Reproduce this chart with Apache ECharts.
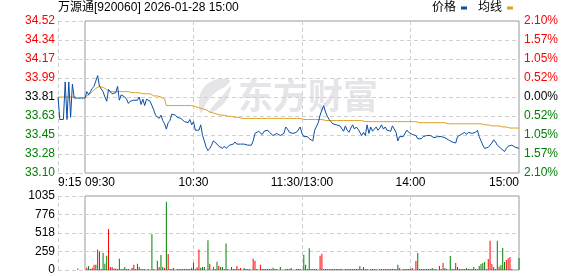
<!DOCTYPE html>
<html><head><meta charset="utf-8">
<script src="https://cdn.jsdelivr.net/npm/echarts@6/dist/echarts.min.js"></script>
<style>html,body{margin:0;padding:0;background:#fff}#c{width:578px;height:276px}</style>
</head><body><div id="c"></div>
<script>
const titleText = '万源通[920060] 2026-01-28 15:00';
const preLabels = ['9:15'];
const mainLabels = ['09:30', '10:30', '11:30/13:00', '14:00', '15:00'];
const priceTicks = ['33.10','33.28','33.45','33.63','33.81','33.99','34.17','34.34','34.52'];
const pctTicks = ['2.10%','1.57%','1.05%','0.52%','0.00%','0.52%','1.05%','1.57%','2.10%'];
const volTicks = ['0','259','518','776','1035'];

const prePrice = [33.81,33.60,33.60,33.60,33.95,33.60,33.95,33.62,33.93,33.80,33.80,33.80,33.80,33.80,33.80,33.80];
const preAvg = [33.81,33.81,33.81,33.81,33.81,33.81,33.81,33.81,33.81,33.81,33.81,null,null,null,null,null];
const preVol = [0,0,0,0,0,0,0,0,0,0,0,20,0,0,0,0];
const preUp = [0,0,0,0,0,0,0,0,0,0,0,0,0,0,0,0];

const mainPrice = [
33.80,33.86,33.83,33.86,33.89,33.91,33.92,34.01,33.91,33.90,
33.86,33.81,33.77,33.88,33.87,33.84,33.84,33.85,33.91,33.78,
33.83,33.84,33.81,33.79,33.75,33.77,33.77,33.78,33.78,33.78,
33.81,33.74,33.79,33.73,33.79,33.80,33.77,33.73,33.69,33.64,
33.65,33.61,33.64,33.59,33.56,33.51,33.57,33.59,33.65,33.65,
33.64,33.62,33.61,33.61,33.60,33.58,33.59,33.57,33.60,33.55,
33.58,33.50,33.50,33.50,33.55,33.45,33.40,33.34,33.31,33.33,
33.36,33.40,33.39,33.37,33.35,33.35,33.33,33.35,33.33,33.34,
33.36,33.37,33.37,33.39,33.37,33.38,33.37,33.38,33.37,33.37,
33.36,33.37,33.36,33.40,33.47,33.47,33.49,33.49,33.46,33.49,
33.48,33.50,33.48,33.49,33.45,33.45,33.47,33.48,33.45,33.45,
33.47,33.53,33.51,33.48,33.48,33.47,33.48,33.48,33.49,33.53,
33.47,33.44,33.44,33.44,33.42,33.41,33.40,33.50,33.51,33.57,
33.64,33.69,33.73,33.67,33.63,33.60,33.58,33.56,33.56,33.55,
33.56,33.54,33.55,33.49,33.54,33.50,33.48,33.52,33.55,33.51,
33.53,33.51,33.50,33.45,33.48,33.45,33.55,33.47,33.53,33.49,
33.51,33.53,33.50,33.52,33.55,33.51,33.53,33.50,33.51,33.49,
33.54,33.53,33.48,33.40,33.44,33.44,33.44,33.45,33.50,33.48,
33.47,33.46,33.46,33.45,33.42,33.42,33.42,33.44,33.44,33.45,
33.46,33.45,33.44,33.43,33.43,33.44,33.45,33.44,33.45,33.43,
33.42,33.41,33.41,33.39,33.39,33.38,33.44,33.45,33.46,33.47,
33.48,33.46,33.48,33.49,33.47,33.48,33.48,33.50,33.44,33.40,
33.36,33.33,33.33,33.34,33.36,33.38,33.41,33.39,33.36,33.36,
33.33,33.33,33.30,33.33,33.35,33.35,33.36,33.35,33.34,33.35,33.33];

const mainAvg = [
33.81,33.82,33.83,33.84,33.86,33.87,33.89,33.90,33.91,33.91,
33.90,33.89,33.88,33.87,33.86,33.86,33.86,33.86,33.86,33.86,
33.86,33.86,33.86,33.86,33.86,33.85,33.85,33.85,33.85,33.85,
33.85,33.85,33.84,33.84,33.84,33.84,33.84,33.83,33.82,33.82,
33.82,33.81,33.81,33.80,33.79,33.73,33.73,33.73,33.73,33.73,
33.73,33.73,33.73,33.73,33.73,33.73,33.73,33.73,33.73,33.73,
33.73,33.72,33.72,33.71,33.71,33.70,33.70,33.69,33.68,33.67,
33.67,33.66,33.66,33.65,33.65,33.64,33.64,33.64,33.64,33.63,
33.63,33.63,33.63,33.62,33.62,33.62,33.61,33.61,33.61,33.61,
33.61,33.61,33.61,33.61,33.61,33.61,33.61,33.61,33.61,33.61,
33.61,33.61,33.61,33.61,33.61,33.61,33.61,33.61,33.61,33.61,
33.61,33.61,33.61,33.61,33.61,33.61,33.61,33.61,33.61,33.61,
33.61,33.60,33.60,33.60,33.60,33.60,33.60,33.60,33.60,33.60,
33.60,33.60,33.60,33.59,33.59,33.59,33.59,33.59,33.59,33.59,
33.59,33.59,33.59,33.59,33.59,33.59,33.59,33.59,33.59,33.59,
33.59,33.59,33.59,33.59,33.58,33.58,33.58,33.58,33.58,33.58,
33.58,33.58,33.58,33.58,33.58,33.58,33.58,33.58,33.58,33.58,
33.58,33.58,33.58,33.58,33.58,33.58,33.58,33.58,33.58,33.58,
33.58,33.58,33.58,33.58,33.57,33.57,33.57,33.57,33.57,33.57,
33.57,33.57,33.57,33.57,33.57,33.57,33.57,33.57,33.57,33.57,
33.57,33.56,33.56,33.56,33.56,33.56,33.56,33.56,33.56,33.56,
33.56,33.56,33.56,33.56,33.56,33.56,33.56,33.56,33.56,33.56,
33.56,33.55,33.55,33.55,33.55,33.54,33.54,33.54,33.54,33.54,
33.53,33.53,33.53,33.53,33.52,33.52,33.52,33.52,33.52,33.52,33.52];

const mainVol = [
0,35,57,15,33,72,72,286,258,15,
243,86,200,572,43,43,20,20,15,157,
15,15,43,15,15,0,33,72,15,86,
43,15,15,15,0,15,0,500,15,0,
129,43,210,43,29,954,224,15,15,28,
0,15,15,15,15,15,15,15,15,30,
100,15,38,286,33,43,43,0,415,86,
0,43,15,115,57,43,43,15,372,15,
0,43,15,15,57,15,29,0,28,15,
15,15,0,157,129,15,0,72,15,15,
15,15,15,15,33,15,15,0,43,0,
0,15,15,15,28,0,0,15,15,15,
0,215,72,15,305,15,15,15,15,0,
200,229,15,15,15,15,15,15,15,15,
15,15,15,0,15,15,15,15,15,15,
15,15,57,15,43,15,15,0,15,15,
15,15,0,15,15,15,15,15,15,15,
15,15,15,72,28,0,15,15,15,15,
15,28,0,126,238,15,15,15,15,15,
15,15,28,15,15,0,56,15,98,28,
15,0,196,15,15,98,43,15,15,15,
15,28,15,15,15,43,15,15,56,84,
98,112,15,154,410,84,43,15,410,47,
70,308,112,140,163,182,15,0,0,0,168];

const mainUp = [
1,1,0,1,1,1,0,1,0,1,
0,0,0,1,1,1,1,1,1,0,
1,1,0,1,1,0,1,1,0,0,
1,0,1,0,0,0,0,0,0,0,
0,1,0,0,1,0,1,1,1,1,
0,0,0,0,1,0,0,0,1,0,
0,1,1,1,0,0,0,0,0,1,
0,1,1,0,1,0,0,1,0,0,
0,1,0,0,1,0,1,0,0,0,
0,0,0,1,1,0,0,1,0,0,
0,0,0,1,0,1,1,0,0,0,
0,1,1,0,0,0,0,1,1,1,
0,0,0,1,0,1,0,1,1,0,
1,1,0,0,0,0,0,0,0,0,
1,1,0,0,0,1,1,1,0,0,
0,0,0,1,0,1,0,0,1,1,
1,1,0,1,1,1,0,0,0,0,
0,0,0,0,1,0,1,1,0,0,
0,1,0,1,0,1,1,1,1,0,
1,1,0,1,0,0,1,1,1,0,
1,0,0,0,1,1,1,1,0,0,
0,0,1,1,1,0,0,1,0,0,
0,0,0,1,1,1,0,1,0,1,
0,0,0,1,1,1,1,0,0,0,0];

const FONT = '"Liberation Sans", Arial, "Noto Sans CJK SC", sans-serif';
const BLUE = '#0b4ea2', ORANGE = '#dca11f', RED = '#ff0000', GREEN = '#008000';
const PMIN = 33.10, PMAX = 34.52, PINT = (PMAX - PMIN) / 8;
const VMAX = 1035, VINT = VMAX / 4;
const dash = { type: [4, 3], color: '#cfcfcf', width: 1 };
const pIdx = v => Math.round((v - PMIN) / PINT);
const tickColor = v => { const i = pIdx(v); return i < 4 ? GREEN : (i > 4 ? RED : '#000'); };
const pairs = arr => arr.map((v, i) => [i, v]);

const chart = echarts.init(document.getElementById('c'));
const baseX = {
  type: 'value', axisLine: { show: false }, axisTick: { show: false }
};
chart.setOption({
  animation: false,
  backgroundColor: '#fff',
  title: {
    text: titleText, left: 58, top: 2, padding: 0,
    textStyle: { fontSize: 12, fontWeight: 'normal', color: '#000', fontFamily: FONT }
  },
  legend: {
    right: 65, top: 2, padding: 0, align: 'right', itemWidth: 6, itemHeight: 3, itemGap: 11,
    textStyle: { fontSize: 12, color: '#000', fontFamily: FONT },
    data: [{ name: '价格', icon: 'rect' }, { name: '均线', icon: 'rect' }]
  },
  graphic: [
    { type: 'polygon', z: 0, shape: { smooth: 0.35, points: [[230,80],[214,80],[202,90],[199,103],[201,113],[207,102],[216,92],[226,86]] },
      style: { fill: '#e4e4e9' } },
    { type: 'polygon', z: 0, shape: { smooth: 0.35, points: [[231,86],[222,96],[213,106],[209,113],[219,108],[227,99]] },
      style: { fill: '#e4e4e9' } },
    { type: 'text', z: 0, left: 238, top: 78, style: { text: '东方财富', fontSize: 35, fontWeight: 'bold', fill: '#e4e4e9', fontFamily: '"Noto Sans CJK SC", sans-serif' } }
  ],
  grid: [
    { left: 58, top: 21, width: 27, height: 152 },
    { left: 85, top: 21, width: 434, height: 152, show: true, borderColor: '#999', borderWidth: 1, backgroundColor: 'transparent' },
    { left: 58, top: 196, width: 27, height: 74 },
    { left: 85, top: 196, width: 434, height: 74, show: true, borderColor: '#999', borderWidth: 1, backgroundColor: 'transparent' }
  ],
  xAxis: [
    Object.assign({}, baseX, { gridIndex: 0, min: 0, max: 15, interval: 15,
      splitLine: { show: true, showMaxLine: false, lineStyle: dash },
      axisLabel: { margin: 4, fontSize: 12, color: '#000', fontFamily: FONT, showMaxLabel: false, alignMinLabel: 'left',
        formatter: v => (v === 0 ? preLabels[0] : '') } }),
    Object.assign({}, baseX, { gridIndex: 1, min: 0, max: 240, interval: 60,
      splitLine: { show: true, showMinLine: false, showMaxLine: false, lineStyle: dash },
      axisLabel: { margin: 4, fontSize: 12, color: '#000', fontFamily: FONT, alignMinLabel: 'left', alignMaxLabel: 'right',
        formatter: v => mainLabels[Math.round(v / 60)] } }),
    Object.assign({}, baseX, { gridIndex: 2, min: 0, max: 15, interval: 15,
      splitLine: { show: true, showMaxLine: false, lineStyle: dash }, axisLabel: { show: false } }),
    Object.assign({}, baseX, { gridIndex: 3, min: 0, max: 240, interval: 60,
      splitLine: { show: true, showMinLine: false, showMaxLine: false, lineStyle: dash }, axisLabel: { show: false } })
  ],
  yAxis: [
    { type: 'value', gridIndex: 0, min: PMIN, max: PMAX, interval: PINT, position: 'left',
      axisLine: { show: false }, axisTick: { show: false },
      splitLine: { show: true, lineStyle: dash },
      axisLabel: { margin: 3, fontSize: 12, fontFamily: FONT, formatter: v => priceTicks[pIdx(v)], color: v => tickColor(+v) } },
    { type: 'value', gridIndex: 1, min: PMIN, max: PMAX, interval: PINT, position: 'right',
      axisLine: { show: false }, axisTick: { show: false },
      splitLine: { show: true, showMinLine: false, showMaxLine: false, lineStyle: dash },
      axisLabel: { margin: 5, fontSize: 12, fontFamily: FONT, formatter: v => pctTicks[pIdx(v)], color: v => tickColor(+v) } },
    { type: 'value', gridIndex: 2, min: 0, max: VMAX, interval: VINT, position: 'left',
      axisLine: { show: false }, axisTick: { show: false },
      splitLine: { show: true, lineStyle: dash },
      axisLabel: { margin: 3, fontSize: 12, fontFamily: FONT, color: '#000', formatter: v => volTicks[Math.round(v / VINT)] } },
    { type: 'value', gridIndex: 3, min: 0, max: VMAX, interval: VINT, position: 'right',
      axisLine: { show: false }, axisTick: { show: false },
      splitLine: { show: true, showMinLine: false, showMaxLine: false, lineStyle: dash },
      axisLabel: { show: false } }
  ],
  series: [
    { name: '均线', type: 'line', xAxisIndex: 0, yAxisIndex: 0, data: pairs(preAvg), showSymbol: false, color: ORANGE, lineStyle: { width: 1, color: ORANGE }, z: 3 },
    { name: '价格', type: 'line', xAxisIndex: 0, yAxisIndex: 0, data: pairs(prePrice), showSymbol: false, color: BLUE, lineStyle: { width: 1, color: BLUE }, z: 4 },
    { name: '均线', type: 'line', xAxisIndex: 1, yAxisIndex: 1, data: pairs(mainAvg), showSymbol: false, color: ORANGE, lineStyle: { width: 1, color: ORANGE }, z: 3 },
    { name: '价格', type: 'line', xAxisIndex: 1, yAxisIndex: 1, data: pairs(mainPrice), showSymbol: false, color: BLUE, lineStyle: { width: 1, color: BLUE }, z: 4 },
    { name: 'preVol', type: 'bar', xAxisIndex: 2, yAxisIndex: 2, barWidth: 1,
      data: preVol.map((v, i) => ({ value: [i, v], itemStyle: { color: preUp[i] ? RED : GREEN } })) },
    { name: 'mainVol', type: 'bar', xAxisIndex: 3, yAxisIndex: 3, barWidth: 1,
      data: mainVol.map((v, i) => ({ value: [i, v], itemStyle: { color: mainUp[i] ? RED : GREEN } })) }
  ]
});
</script></body></html>
